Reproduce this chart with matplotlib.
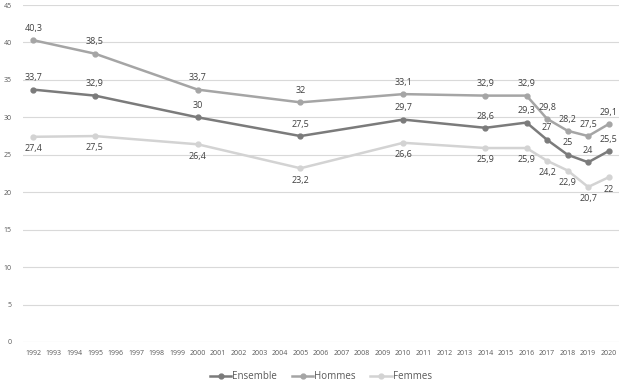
import matplotlib.pyplot as plt
import numpy as np

plt.rcParams['font.family'] = ['Open Sans', 'DejaVu Sans']

years = list(range(1992, 2021))
data_years = [1992, 1995, 2000, 2005, 2010, 2014, 2016, 2017, 2018, 2019, 2020]
ensemble = [33.7, 32.9, 30, 27.5, 29.7, 28.6, 29.3, 27, 25, 24, 25.5]
hommes = [40.3, 38.5, 33.7, 32, 33.1, 32.9, 32.9, 29.8, 28.2, 27.5, 29.1]
femmes = [27.4, 27.5, 26.4, 23.2, 26.6, 25.9, 25.9, 24.2, 22.9, 20.7, 22]

fig = plt.figure(figsize=(6.36, 3.86), dpi=100)
ax = fig.add_axes([23/636, 44/386, 596/636, 337/386])

x_pos = [years.index(y) for y in data_years]


def fmt(v):
    s = ('%g' % v)
    return s.replace('.', ',')


series = [
    ('Ensemble', ensemble, '#7b7b7b', 8.5),
    ('Hommes', hommes, '#a5a5a5', 8.5),
    ('Femmes', femmes, '#d3d3d3', -8.5),
]
for name, vals, col, off in series:
    ax.plot(x_pos, vals, color=col, lw=1.8, marker='o', ms=3.5, label=name)
    for xp, v in zip(x_pos, vals):
        ax.annotate(fmt(v), (xp, v), xytext=(0, off), textcoords='offset points',
                    ha='center', va='center', fontsize=6.5, color='#404040')

ax.set_xlim(-0.5, len(years) - 0.5)
ax.set_ylim(0, 45)
ax.set_xticks(range(len(years)))
ax.set_xticklabels([str(y) for y in years], fontsize=5, color='#595959')
ax.set_yticks(np.arange(0, 46, 5))
ax.tick_params(axis='y', labelsize=5, colors='#595959', length=0, pad=8)
ax.tick_params(axis='x', length=0, pad=6)
ax.grid(axis='y', color='#d9d9d9', lw=0.8)
ax.set_axisbelow(True)
for s in ax.spines.values():
    s.set_visible(False)

ax.legend(loc='upper center', bbox_to_anchor=(0.5, -0.06), ncol=3, frameon=False,
          fontsize=7, handlelength=2.2, columnspacing=1.5, handletextpad=0.1,
          labelcolor='#595959')

fig.savefig('out.png', dpi=100)
